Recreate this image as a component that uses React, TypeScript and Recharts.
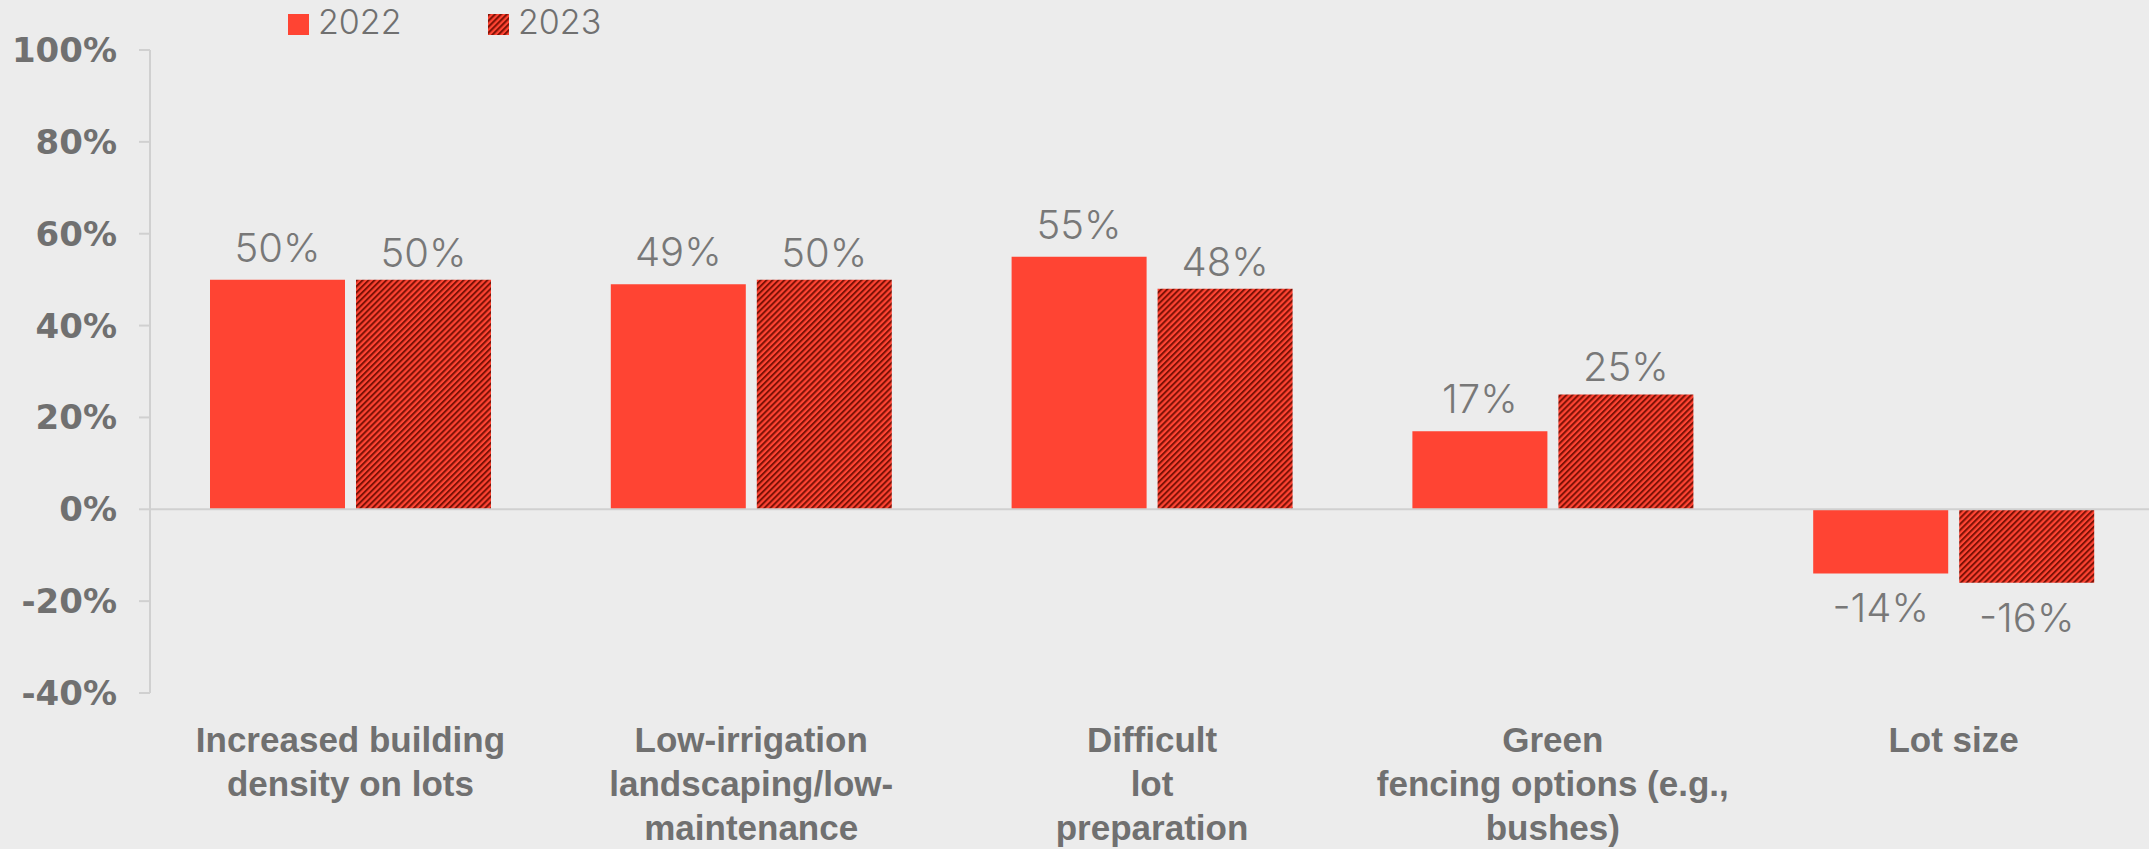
import { BarChart, Bar, XAxis, YAxis, ReferenceLine, Legend, LabelList } from 'recharts';

// categories + wrapped tick lines as in the source chart
const categories = [
  'Increased building density on lots',
  'Low-irrigation landscaping/low-maintenance',
  'Difficult lot preparation',
  'Green fencing options (e.g., bushes)',
  'Lot size',
];
const categoryLines = [
  ['Increased building', 'density on lots'],
  ['Low-irrigation', 'landscaping/low-', 'maintenance'],
  ['Difficult', 'lot', 'preparation'],
  ['Green', 'fencing options (e.g.,', 'bushes)'],
  ['Lot size'],
];
const values2022 = [50, 49, 55, 17, -14];
const values2023 = [50, 50, 48, 25, -16];
const yTicks = [-40, -20, 0, 20, 40, 60, 80, 100];
const seriesNames = ['2022', '2023'];

const RED = '#ff4433';
const DARK = '#7d1206';
const TEXT = '#707070';
const LINE = '#d0d0d0';
const BG = '#ececec';

const data = categories.map((name, i) => ({
  name,
  lines: categoryLines[i],
  v2022: values2022[i],
  v2023: values2023[i],
}));

const HatchDef = ({ id }: { id: string }) => (
  <pattern id={id} patternUnits="userSpaceOnUse" width="4.2" height="4.2" patternTransform="rotate(45)">
    <rect width="4.2" height="4.2" fill={RED} />
    <rect x="0" y="0" width="2" height="4.2" fill={DARK} />
  </pattern>
);

const CategoryTick = (props: any) => {
  const { x, y, payload, index } = props;
  const lines = categoryLines[index] ?? [payload.value];
  return (
    <g transform={`translate(${x},${y})`}>
      {lines.map((ln: string, i: number) => (
        <text
          key={i}
          x={0}
          y={59 + i * 44}
          textAnchor="middle"
          fill={TEXT}
          style={{ fontFamily: '"Liberation Sans", Arial, sans-serif', fontWeight: 700, fontSize: 35 }}
        >
          {ln}
        </text>
      ))}
    </g>
  );
};

// labels above positive bars, below negative ones
const makeLabel = (gapUp: number, gapDown: number) => (props: any) => {
  const { x, y, width, height, value } = props;
  const top = Math.min(y, y + height);
  const bottom = Math.max(y, y + height);
  const cx = x + width / 2;
  const ty = value >= 0 ? top - gapUp : bottom + gapDown;
  return (
    <text
      x={cx}
      y={ty}
      textAnchor="middle"
      fill="#787878"
      style={{ fontFamily: 'Inter, "Open Sans", sans-serif', fontWeight: 300, fontSize: 40 }}
    >
      {`${value}%`}
    </text>
  );
};

const LegendContent = () => (
  <div style={{ position: 'relative', width: 700, height: 50 }}>
    {seriesNames.map((s, i) => (
      <div key={s} style={{ position: 'absolute', left: 288 + i * 200, top: 0, height: 50 }}>
        <svg width={21} height={21} style={{ position: 'absolute', left: 0, top: 14 }}>
          <defs>
            <HatchDef id="legendHatch" />
          </defs>
          <rect width={21} height={21} fill={i === 0 ? RED : 'url(#legendHatch)'} />
        </svg>
        <span
          style={{
            position: 'absolute',
            left: 30,
            top: 1,
            fontFamily: 'Inter, "Open Sans", sans-serif',
            fontWeight: 300,
            fontSize: 34,
            lineHeight: '42px',
            color: TEXT,
            whiteSpace: 'nowrap',
          }}
        >
          {s}
        </span>
      </div>
    ))}
  </div>
);

export default function App() {
  return (
    <div style={{ width: 2149, height: 849, background: BG, overflow: 'hidden' }}>
      <style>{`body{margin:0;background:${BG};}`}</style>
      <BarChart
        width={2149}
        height={849}
        data={data}
        margin={{ top: 0, right: -5, left: 0, bottom: 0 }}
        barCategoryGap={60}
        barGap={11}
      >
        <defs>
          <HatchDef id="hatch2023" />
        </defs>
        <Legend
          verticalAlign="top"
          align="left"
          wrapperStyle={{ top: 0, left: 0 }}
          content={() => <LegendContent />}
        />
        <XAxis
          dataKey="name"
          axisLine={false}
          tickLine={false}
          tickSize={0}
          tickMargin={0}
          height={156}
          interval={0}
          tick={<CategoryTick />}
        />
        <YAxis
          domain={[-40, 100]}
          ticks={yTicks}
          width={150}
          stroke={LINE}
          axisLine={{ stroke: LINE, strokeWidth: 2 }}
          tickLine={{ stroke: LINE, strokeWidth: 2 }}
          tickSize={11}
          tickMargin={22}
          tickFormatter={(v: number) => `${v}%`}
          tick={{
            fill: TEXT,
            fontSize: 34,
            fontWeight: 700,
            fontFamily: '"DejaVu Sans", sans-serif',
          }}
          interval={0}
        />
        <ReferenceLine y={0} stroke={LINE} strokeWidth={2} />
        <Bar dataKey="v2022" name="2022" fill={RED} isAnimationActive={false}>
          <LabelList dataKey="v2022" content={makeLabel(18, 48)} />
        </Bar>
        <Bar dataKey="v2023" name="2023" fill="url(#hatch2023)" isAnimationActive={false}>
          <LabelList dataKey="v2023" content={makeLabel(13, 49)} />
        </Bar>
      </BarChart>
    </div>
  );
}
